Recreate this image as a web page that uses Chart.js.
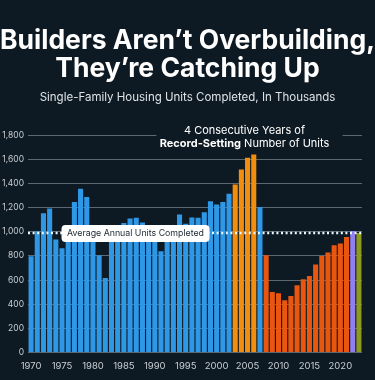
<!DOCTYPE html>
<html>
<head>
<meta charset="utf-8">
<script src="https://cdn.jsdelivr.net/npm/chart.js@4.4.1/dist/chart.umd.min.js"></script>
<style>
  body { margin: 0; background: #0e1a23; font-family: Inter, sans-serif; }
  #wrap { position: relative; width: 375px; height: 380px; }
  h1 { position: absolute; top: 25px; left: 0; width: 375px; margin: 0; text-align: center; white-space: nowrap;
       color: #fff; font-size: 26.5px; line-height: 28px; font-weight: 700; letter-spacing: 0; }
  .sub { position: absolute; top: 90px; left: 0; width: 375px; text-align: center; white-space: nowrap;
         color: #dde2e6; font-size: 11.5px; }
  canvas { position: absolute; top: 0; left: 0; }
</style>
</head>
<body>
<div id="wrap">
  <canvas id="housingChart" width="375" height="380"></canvas>
  <h1>Builders Aren’t Overbuilding,<br>They’re Catching Up</h1>
  <div class="sub">Single-Family Housing Units Completed, In Thousands</div>
</div>
<script>
var years = [1970, 1971, 1972, 1973, 1974, 1975, 1976, 1977, 1978, 1979,
             1980, 1981, 1982, 1983, 1984, 1985, 1986, 1987, 1988, 1989,
             1990, 1991, 1992, 1993, 1994, 1995, 1996, 1997, 1998, 1999,
             2000, 2001, 2002, 2003, 2004, 2005, 2006, 2007, 2008, 2009,
             2010, 2011, 2012, 2013, 2014, 2015, 2016, 2017, 2018, 2019,
             2020, 2021, 2022, 2023];
var units = [797, 1003, 1152, 1191, 935, 863, 1030, 1245, 1356, 1287,
             957, 805, 618, 924, 1025, 1072, 1110, 1116, 1077, 1026,
             966, 838, 964, 1039, 1143, 1066, 1118, 1116, 1160, 1253,
             1226, 1245, 1314, 1390, 1515, 1612, 1639, 1204, 805, 502,
             491, 433, 469, 557, 607, 634, 728, 799, 827, 888,
             902, 956, 1006, 990];
var recordYears = [2003, 2004, 2005, 2006];
var avgUnits = 990;
var yTicks = [0, 200, 400, 600, 800, 1000, 1200, 1400, 1600, 1800];

// bar colour per year
function barColor(y) {
    if (recordYears.indexOf(y) >= 0) return '#f28d0e';
    if (y === 2022) return '#8f7ff0';
    if (y === 2023) return '#8c9a22';
    if (y >= 2008) return '#e8560f';
    return '#2f98e6';
}

var overlay = {
    id: 'overlay',
    afterDatasetsDraw: function (chart) {
        var ctx = chart.ctx, area = chart.chartArea;
        var xs = chart.scales.x, ys = chart.scales.y;

        // dotted average line
        var ay = ys.getPixelForValue(avgUnits);
        ctx.save();
        ctx.strokeStyle = '#eaf7ff';
        ctx.lineWidth = 2.5;
        ctx.setLineDash([2, 2.6]);
        ctx.beginPath();
        ctx.moveTo(area.left, ay);
        ctx.lineTo(area.right, ay);
        ctx.stroke();
        ctx.setLineDash([]);

        // average label
        var label = 'Average Annual Units Completed';
        ctx.font = '8.8px Inter, sans-serif';
        var lw = ctx.measureText(label).width + 11;
        var bx = xs.getPixelForValue(years.indexOf(1975)) - 0.5;
        ctx.fillStyle = '#ffffff';
        ctx.beginPath();
        ctx.roundRect(bx, ay - 8, lw, 17, 4);
        ctx.fill();
        ctx.fillStyle = '#1b2631';
        ctx.textAlign = 'center';
        ctx.textBaseline = 'middle';
        ctx.fillText(label, bx + lw / 2, ay + 0.5);

        // record-setting note
        var cx = (xs.getPixelForValue(years.indexOf(2003)) + xs.getPixelForValue(years.indexOf(2006))) / 2;
        var ty = ys.getPixelForValue(1800);
        ctx.fillStyle = '#0e1a23';
        ctx.fillRect(cx - 88, ty - 5, 186, 10);
        ctx.fillStyle = '#ffffff';
        ctx.font = '11px Inter, sans-serif';
        ctx.fillText('4 Consecutive Years of', cx, ty - 4);
        ctx.font = 'bold 11px Inter, sans-serif';
        var boldTxt = 'Record-Setting';
        var restTxt = ' Number of Units';
        var w1 = ctx.measureText(boldTxt).width;
        ctx.font = '11px Inter, sans-serif';
        var w2 = ctx.measureText(restTxt).width;
        var sx = cx - (w1 + w2) / 2;
        ctx.textAlign = 'left';
        ctx.font = 'bold 11px Inter, sans-serif';
        ctx.fillText(boldTxt, sx, ty + 9);
        ctx.font = '11px Inter, sans-serif';
        ctx.fillText(restTxt, sx + w1, ty + 9);
        ctx.restore();
    }
};

var ctx = document.getElementById('housingChart').getContext('2d');
var chart = new Chart(ctx, {
    type: 'bar',
    data: {
        labels: years,
        datasets: [{
            data: units,
            backgroundColor: years.map(barColor),
            borderWidth: 0,
            categoryPercentage: 1,
            barPercentage: 0.82
        }]
    },
    options: {
        responsive: false,
        animation: false,
        layout: { padding: { top: 135, bottom: 8, left: 0, right: 13 } },
        scales: {
            x: {
                grid: { display: false },
                border: { display: false },
                ticks: {
                    color: '#c9ced3',
                    font: { family: 'Inter', size: 9.5 },
                    autoSkip: false,
                    maxRotation: 0,
                    padding: 0,
                    callback: function (v, i) {
                        return years[i] % 5 === 0 ? years[i] : '';
                    }
                }
            },
            y: {
                min: 0,
                max: 1800,
                afterBuildTicks: function (axis) {
                    axis.ticks = yTicks.map(function (v) { return { value: v }; });
                },
                afterFit: function (axis) { axis.width = 28; },
                grid: { color: '#5d6870', lineWidth: 1, drawTicks: false },
                border: { display: false },
                ticks: {
                    color: '#c9ced3',
                    font: { family: 'Inter', size: 8.5 },
                    padding: 4,
                    callback: function (v) { return v.toLocaleString('en-US'); }
                }
            }
        },
        plugins: {
            legend: { display: false },
            tooltip: { enabled: false }
        }
    },
    plugins: [overlay]
});
</script>
</body>
</html>
